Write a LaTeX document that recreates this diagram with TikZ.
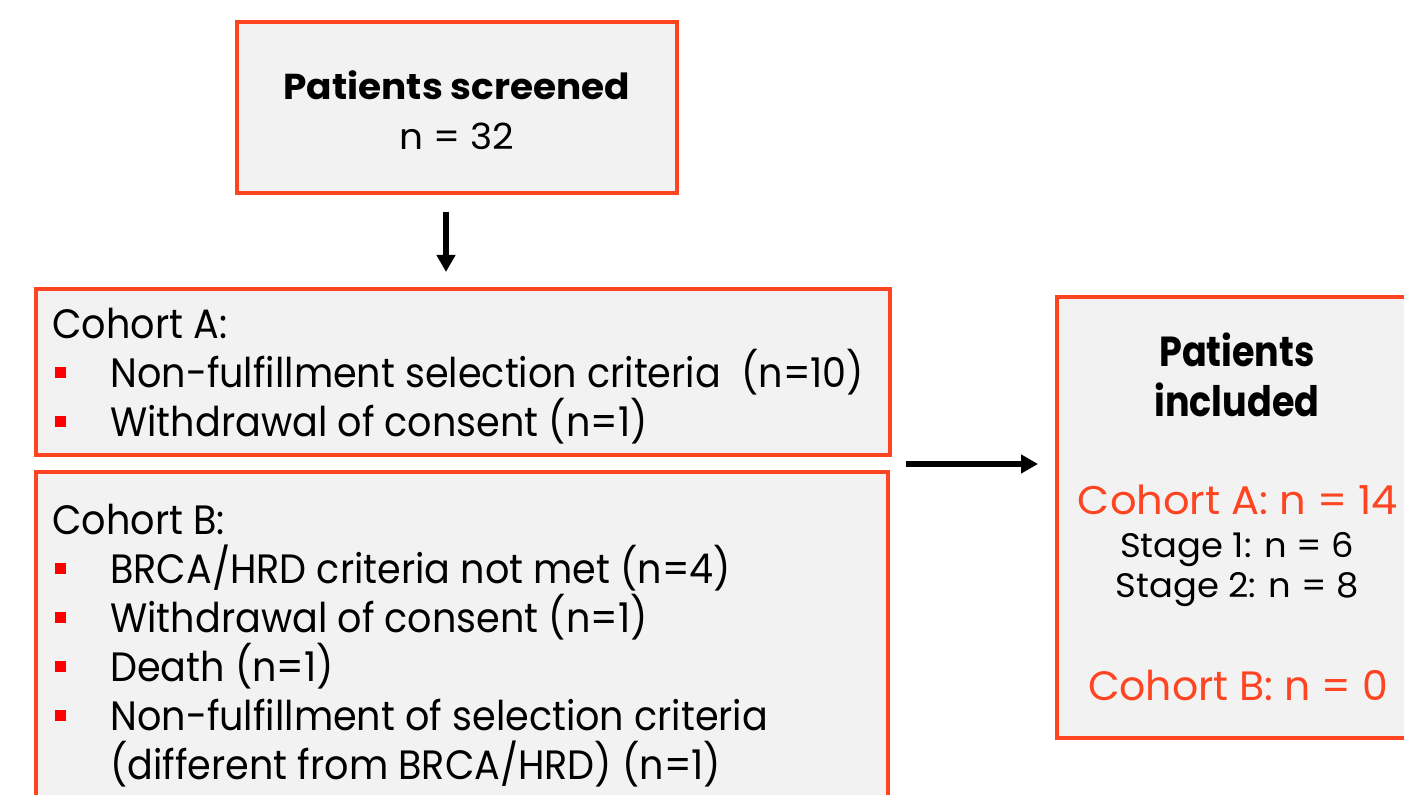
\documentclass[tikz,border=0pt]{standalone}
\usepackage{fontspec}
\setmainfont{Poppins}
\newfontfamily\listfont[FakeStretch=0.93]{Poppins}
\newfontfamily\inclfont[FakeStretch=0.87]{Poppins}
\newfontfamily\widefont[FakeStretch=1.04]{Poppins}
\usetikzlibrary{positioning, arrows.meta}
\definecolor{flowred}{HTML}{FF4422}
\definecolor{flowgray}{HTML}{F2F2F2}
\definecolor{bulred}{HTML}{FF0000}
\newcommand{\sqbullet}{\makebox[29pt][l]{\hspace{1.5pt}\textcolor{bulred}{\rule[5pt]{5.5pt}{5.5pt}}}}
\tikzset{
  box/.style={rectangle, draw=flowred, fill=flowgray, line width=2pt,
              inner sep=0pt, align=center},
  listtxt/.style={align=left, inner sep=0pt, anchor=north west,
                  font=\listfont\fontsize{20.5}{24.5}\selectfont},
  arr/.style={-{Triangle[length=8.5pt,width=9pt]}, line width=3pt},
}

\begin{document}
\begin{tikzpicture}[x=0.5pt, y=-0.5pt]
  \useasboundingbox (0,0) rectangle (1404,795);
  % boxes
  \node[box, minimum width=220pt, minimum height=85.5pt] (scr) at (457,107.5) {};
  \node[box, minimum width=427pt, minimum height=83pt] (coA) at (463,372) {};
  \node[box, minimum width=426pt, minimum height=184pt] (coB) at (462,656) {};
  \node[box, minimum width=180pt, minimum height=220.5pt] (incl) at (1237,517.5) {};
  \node[inner sep=0pt, align=center, anchor=base,
        font=\widefont\fontsize{18}{25}\selectfont] (scrtxt) at (457,150)
        {\textbf{Patients screened}\\n = 32};
  % exclusion lists
  \node[listtxt] (listA) at (52,308)
        {Cohort A:\\
         \sqbullet Non-fulfillment selection criteria\ \ (n=10)\\
         \sqbullet Withdrawal of consent (n=1)};
  \node[listtxt] (listB) at (52,504)
        {Cohort B:\\
         \sqbullet BRCA/HRD criteria not met (n=4)\\
         \sqbullet Withdrawal of consent (n=1)\\
         \sqbullet Death (n=1)\\
         \sqbullet Non-fulfillment of selection criteria\\
         \hspace*{29pt}(different\ from BRCA/HRD)\ (n=1)};
  % included patients
  \node[inner sep=0pt, align=center, anchor=base,
        font=\inclfont\fontsize{21}{25}\selectfont\bfseries] (ttl) at (1237,417)
        {Patients\\included};
  \node[inner sep=0pt, anchor=base, text=flowred,
        font=\widefont\fontsize{20}{24}\selectfont] (resA) at (1238,515)
        {Cohort A: n = 14};
  \node[inner sep=0pt, align=center, anchor=base,
        font=\widefont\fontsize{17}{20}\selectfont] (stg) at (1237,598)
        {Stage 1: n = 6\\Stage 2: n = 8};
  \node[inner sep=0pt, anchor=base, text=flowred,
        font=\fontsize{20.5}{24}\selectfont] (resB) at (1238,701)
        {Cohort B: n = 0};
  % arrows
  \draw[arr] ([xshift=-5.5pt,yshift=-8.5pt]scr.south)
        -- ([xshift=-5.5pt]scr.south |- coA.north)
        [shorten >=7.5pt];
  \draw[arr] ([xshift=7pt,yshift=-3.5pt]coA.south east) coordinate (a0)
        -- (a0 -| incl.west) [shorten >=8.5pt];
\end{tikzpicture}
\end{document}
